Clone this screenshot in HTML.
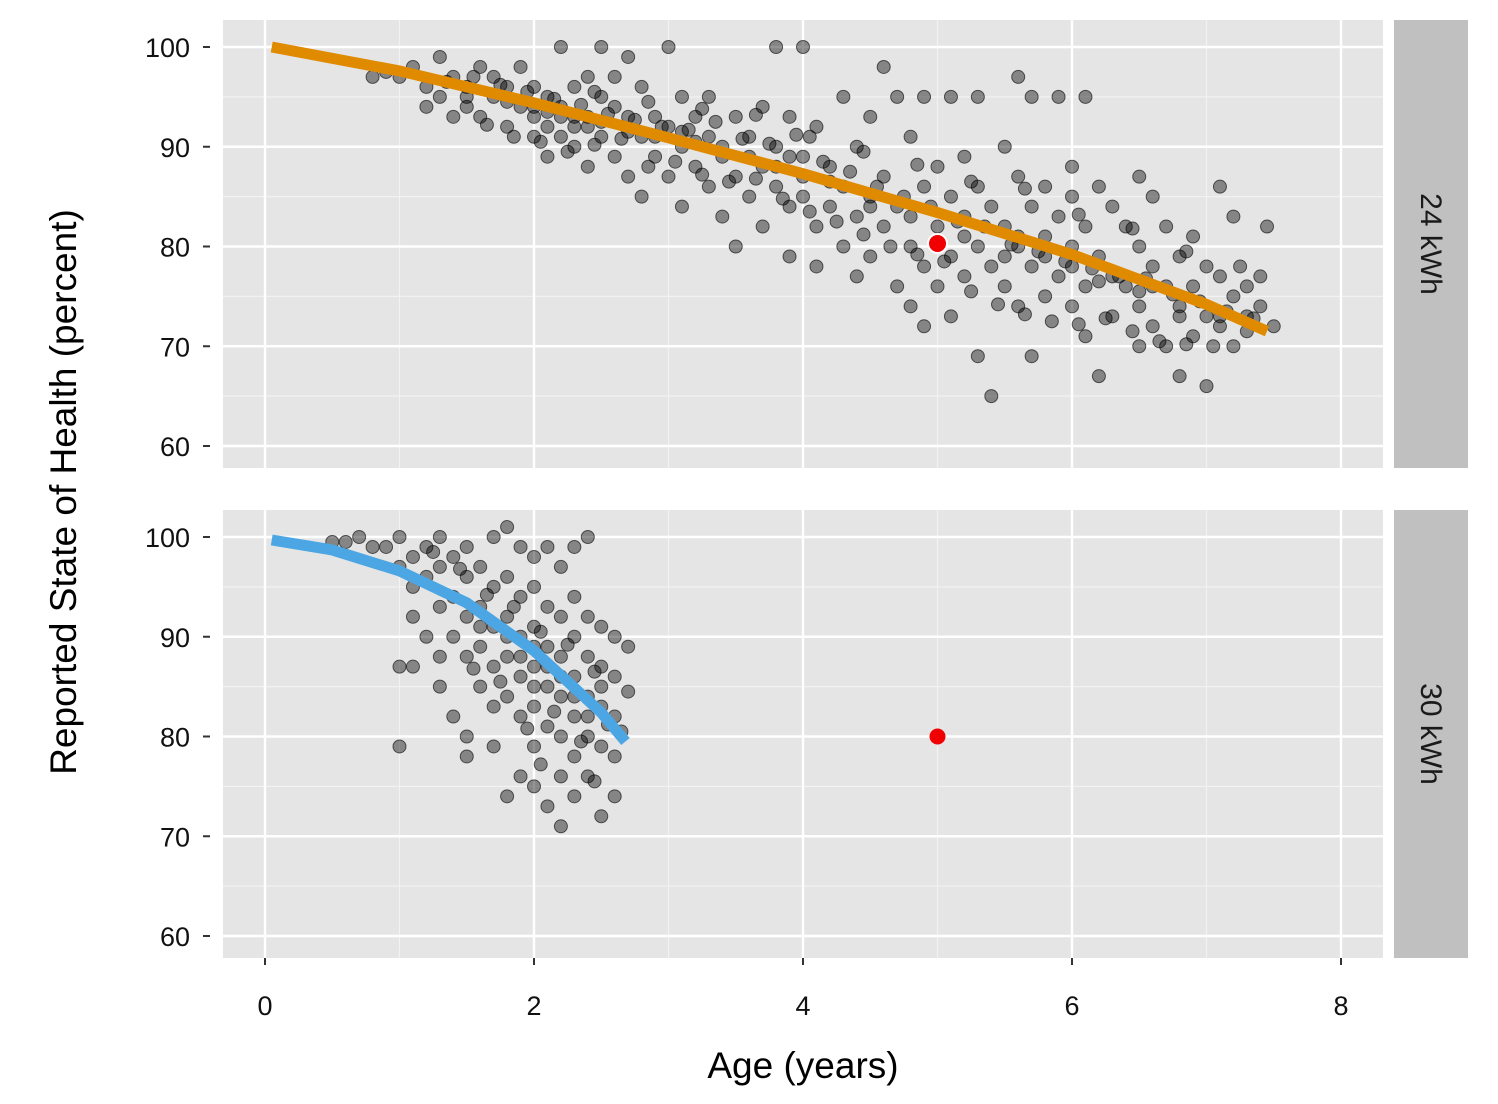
<!DOCTYPE html>
<html><head><meta charset="utf-8"><style>
body{margin:0;background:#fff}
svg{display:block;font-family:"Liberation Sans",sans-serif}
</style></head><body>
<svg id="c" width="1498" height="1104"></svg>
<script>
const xTicks=[0,2,4,6,8];
const yTicks=[60,70,80,90,100];
const panelLabels=["24 kWh","30 kWh"];
const top24="0.8,97;0.9,97.5;1.0,97;1.1,98;1.2,96;1.2,94;1.3,99;1.3,95;1.4,97;1.4,93;1.5,96;1.5,94;1.6,98;1.6,93;1.7,97;1.7,95;1.8,96;1.8,92;1.9,98;1.9,94;2.0,93;2.0,96;2.0,91;2.1,95;2.1,89;2.1,92;2.2,100;2.2,94;2.2,91;2.3,96;2.3,90;2.3,93;2.4,97;2.4,92;2.4,88;2.5,100;2.5,95;2.5,91;2.6,94;2.6,89;2.6,97;2.7,93;2.7,87;2.7,99;2.8,96;2.8,91;2.8,85;2.9,93;2.9,89;3.0,100;3.0,92;3.0,87;3.1,95;3.1,90;3.1,84;3.2,93;3.2,88;3.3,91;3.3,86;3.3,95;3.4,89;3.4,83;3.5,93;3.5,87;3.5,80;3.6,91;3.6,85;3.7,94;3.7,88;3.7,82;3.8,100;3.8,90;3.8,86;3.9,93;3.9,84;3.9,79;4.0,100;4.0,89;4.0,85;4.1,92;4.1,82;4.1,78;4.2,88;4.2,84;4.3,95;4.3,86;4.3,80;4.4,90;4.4,83;4.4,77;4.5,93;4.5,85;4.5,79;4.6,98;4.6,87;4.6,82;4.7,95;4.7,84;4.7,76;4.8,91;4.8,80;4.8,74;4.9,95;4.9,86;4.9,78;4.9,72;5.0,88;5.0,82;5.0,76;5.1,95;5.1,85;5.1,79;5.1,73;5.2,89;5.2,83;5.2,77;5.3,95;5.3,86;5.3,80;5.3,69;5.4,84;5.4,78;5.4,65;5.5,90;5.5,82;5.5,76;5.6,87;5.6,80;5.6,74;5.6,97;5.7,95;5.7,84;5.7,78;5.7,69;5.8,86;5.8,81;5.8,75;5.9,95;5.9,83;5.9,77;6.0,88;6.0,85;6.0,80;6.0,74;6.1,95;6.1,82;6.1,76;6.1,71;6.2,86;6.2,79;6.2,67;6.3,84;6.3,77;6.3,73;6.4,82;6.4,76;6.5,87;6.5,80;6.5,74;6.5,70;6.6,85;6.6,78;6.6,72;6.7,82;6.7,76;6.7,70;6.8,79;6.8,74;6.8,67;6.9,81;6.9,76;6.9,71;7.0,78;7.0,73;7.0,66;7.1,86;7.1,77;7.1,72;7.2,75;7.2,83;7.2,70;7.3,76;7.3,73;7.4,77;7.4,74;7.45,82;7.5,72;1.5,95;1.8,94.5;2.0,94;2.2,93;2.3,92;2.5,92.5;2.7,91.5;2.9,91;3.1,91.5;3.4,90;3.6,89;3.8,88;4.0,87;4.2,86.5;4.5,84;4.8,83;5.2,81;5.5,79;5.8,79;6.2,76.5;6.5,75.5;6.8,73;7.1,73;2.1,93.5;2.4,93;3.2,90.5;3.9,89;5.6,81;6.0,78;6.6,76;7.3,71.5;1.35,96.5;1.55,97;1.75,96.2;1.95,95.5;2.15,94.8;2.35,94.2;2.55,93.3;2.75,92.7;2.95,92;3.15,91.7;3.35,92.5;3.55,90.8;3.75,90.3;3.95,91.2;4.15,88.5;4.35,87.5;4.55,86;4.75,85;4.95,84;5.15,82.5;5.35,82;5.55,80.2;5.75,79.5;5.95,78.5;6.15,77.8;6.35,77;6.55,76.8;6.75,75.2;6.95,74.5;7.15,73.5;7.35,72.8;2.05,90.5;2.25,89.5;2.45,90.2;2.65,90.8;2.85,88;3.05,88.5;3.25,87.2;3.45,86.5;3.65,86.8;3.85,84.8;4.05,83.5;4.25,82.5;4.45,81.2;4.65,80;4.85,79.2;5.05,78.5;5.25,75.5;5.45,74.2;5.65,73.2;5.85,72.5;6.05,72.2;6.25,72.8;6.45,71.5;6.65,70.5;6.85,70.2;7.05,70;1.65,92.2;1.85,91;2.45,95.5;2.85,94.5;3.25,93.8;3.65,93.2;4.05,91;4.45,89.5;4.85,88.2;5.25,86.5;5.65,85.8;6.05,83.2;6.45,81.8;6.85,79.5;7.25,78";
const bot30="0.5,99.5;0.6,99.5;0.7,100;0.8,99;0.9,99;1.0,100;1.0,97;1.0,87;1.0,79;1.1,98;1.1,95;1.1,92;1.1,87;1.2,99;1.2,96;1.2,90;1.3,100;1.3,97;1.3,93;1.3,88;1.3,85;1.4,98;1.4,94;1.4,90;1.4,82;1.5,99;1.5,96;1.5,92;1.5,88;1.5,80;1.5,78;1.6,97;1.6,93;1.6,89;1.6,85;1.7,100;1.7,95;1.7,91;1.7,87;1.7,83;1.7,79;1.8,101;1.8,96;1.8,92;1.8,88;1.8,84;1.8,74;1.9,99;1.9,94;1.9,90;1.9,86;1.9,82;1.9,76;2.0,98;2.0,95;2.0,91;2.0,87;2.0,83;2.0,79;2.0,75;2.1,99;2.1,93;2.1,89;2.1,85;2.1,81;2.1,73;2.2,97;2.2,92;2.2,88;2.2,84;2.2,80;2.2,76;2.2,71;2.3,99;2.3,94;2.3,90;2.3,86;2.3,82;2.3,78;2.3,74;2.4,100;2.4,92;2.4,88;2.4,84;2.4,80;2.4,76;2.5,91;2.5,87;2.5,83;2.5,79;2.5,72;2.6,90;2.6,86;2.6,82;2.6,78;2.6,74;2.7,89;2.7,84.5;1.9,88;2.0,85;2.1,87;2.2,86;2.3,84;2.4,82;2.5,85;1.6,91;1.8,90;2.0,89;1.25,98.5;1.45,96.8;1.65,94.2;1.85,93;2.05,90.5;2.25,89.2;2.45,86.5;2.55,81.2;2.15,82.5;1.95,80.8;2.35,79.5;2.05,77.2;2.45,75.5;1.75,85.5;1.55,86.8;2.65,80.5";
const fitTopX=[0.05,1,2,3,4,5,6,7,7.45];
const fitTopY=[100,97.6,94.4,90.9,87.3,83.4,79.2,74.2,71.5];
const fitBotX=[0.05,0.5,1,1.5,2,2.5,2.68];
const fitBotY=[99.7,98.7,96.6,93.4,88.6,82.4,79.5];
const refX=[5,5];
const refY=[80.3,80];

const NS="http://www.w3.org/2000/svg";
const svg=document.getElementById('c');
function mk(t,a,p){const e=document.createElementNS(NS,t);for(const k in a)e.setAttribute(k,a[k]);(p||svg).appendChild(e);return e;}
const X=v=>265+v*134.5;
const panels=[{top:20,y0:47},{top:510,y0:537}];
function Yf(p){return v=>p.y0+(100-v)*9.975;}
const parse=s=>s.split(';').map(q=>q.split(',').map(Number));
const pts=[parse(top24),parse(bot30)];
const fits=[[fitTopX,fitTopY,'#e08a00'],[fitBotX,fitBotY,'#4ba6e3']];

panels.forEach((p,i)=>{
  const Y=Yf(p);
  const g=mk('g',{});
  
  
  const bg=mk('rect',{x:223,y:p.top,width:1160,height:448,fill:'#e5e5e5'},g);
  
  
  for(let v=1;v<8;v+=2){const l=mk('line',{x1:X(v),x2:X(v),y1:p.top,y2:p.top+448,stroke:'#f2f2f2','stroke-width':1.2},g);}
  for(let v=65;v<=95;v+=10){const l=mk('line',{x1:223,x2:1383,y1:Y(v),y2:Y(v),stroke:'#f2f2f2','stroke-width':1.2},g);}
  xTicks.forEach(v=>{const l=mk('line',{x1:X(v),x2:X(v),y1:p.top,y2:p.top+448,stroke:'#fff','stroke-width':2.4},g);});
  yTicks.forEach(v=>{
    const l=mk('line',{x1:223,x2:1383,y1:Y(v),y2:Y(v),stroke:'#fff','stroke-width':2.4},g);
    const tk=mk('line',{x1:203,x2:210,y1:Y(v),y2:Y(v),stroke:'#333','stroke-width':2},g);
    const t=mk('text',{x:190,y:Y(v)+10,'text-anchor':'end','font-size':27,fill:'#111'},g);t.textContent=v;
  });
  pts[i].forEach(([a,b])=>{const c=mk('circle',{cx:X(a),cy:Y(b),r:6.5,fill:'rgba(0,0,0,0.42)',stroke:'rgba(0,0,0,0.6)','stroke-width':1},g);});
  const [fx,fy,col]=fits[i];
  const pl=mk('polyline',{points:fx.map((v,k)=>X(v)+','+Y(fy[k])).join(' '),fill:'none',stroke:col,'stroke-width':11,'stroke-linejoin':'round'},g);
  
  const rp=mk('circle',{cx:X(refX[i]),cy:Y(refY[i]),r:i?8:9.5,fill:'#f00000',stroke:i?'none':'#fff','stroke-width':2},g);
  
  const st=mk('rect',{x:1394,y:p.top,width:74,height:448,fill:'#c0c0c0'},g);
  
  const cy=p.top+224;
  const sl=mk('text',{x:1431,y:cy,'font-size':30,fill:'#1a1a1a','text-anchor':'middle',transform:`rotate(90 1431 ${cy})`,dy:10},g);
  sl.textContent=panelLabels[i];
});
xTicks.forEach(v=>{
  const tk=mk('line',{x1:X(v),x2:X(v),y1:958,y2:965,stroke:'#333','stroke-width':2});
  const t=mk('text',{x:X(v),y:1015,'text-anchor':'middle','font-size':27,fill:'#111'});t.textContent=v;
});
const xt=mk('text',{x:803,y:1078,'text-anchor':'middle','font-size':37,fill:'#000'});xt.textContent='Age (years)';

const yt=mk('text',{x:76,y:492,'text-anchor':'middle','font-size':37,fill:'#000',transform:'rotate(-90 76 492)'});yt.textContent='Reported State of Health (percent)';

</script>
</body></html>
